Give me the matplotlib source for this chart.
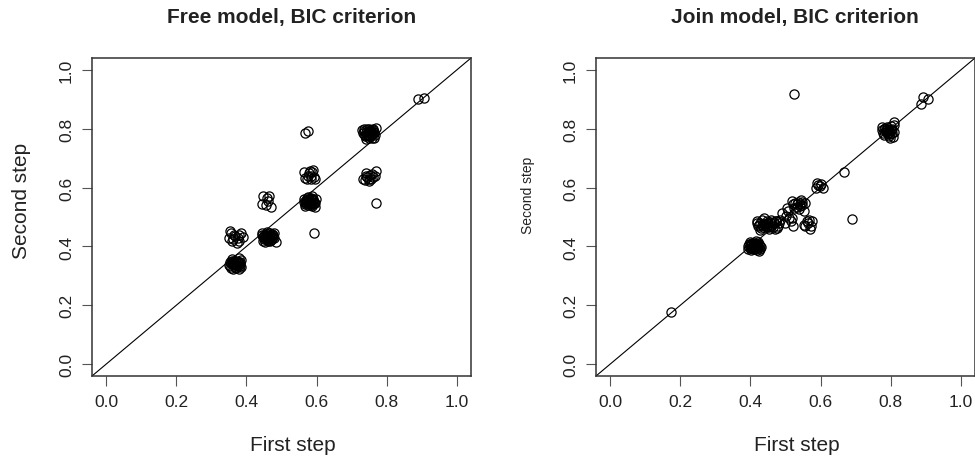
import matplotlib
matplotlib.use("Agg")
import matplotlib.pyplot as plt

plt.rcParams['font.family'] = ['Liberation Sans', 'DejaVu Sans']

# ---------------- data: Free model ----------------
free_first = [
    # dense cluster near (0.37, 0.34)
    0.352, 0.358, 0.365, 0.372, 0.378, 0.384, 0.355, 0.362, 0.369, 0.376, 0.382,
    0.360, 0.367, 0.374, 0.380, 0.386, 0.357, 0.371, 0.378, 0.364, 0.383, 0.350,
    0.361, 0.368, 0.375, 0.359, 0.373, 0.381, 0.366, 0.354,
    # sparse cluster near (0.37, 0.43)
    0.352, 0.355, 0.350, 0.358, 0.362, 0.368, 0.372, 0.375, 0.380, 0.385, 0.390, 0.365, 0.378,
    # dense cluster near (0.46, 0.43)
    0.445, 0.450, 0.455, 0.460, 0.465, 0.470, 0.475, 0.480, 0.485, 0.448, 0.453, 0.458,
    0.463, 0.468, 0.473, 0.478, 0.446, 0.451, 0.456, 0.461, 0.466, 0.471, 0.476, 0.444,
    0.452, 0.459, 0.467, 0.474, 0.449, 0.462, 0.469, 0.457,
    # sparse cluster near (0.46, 0.55)
    0.447, 0.465, 0.445, 0.455, 0.462, 0.470, 0.458,
    # dense cluster near (0.58, 0.55)
    0.565, 0.570, 0.575, 0.580, 0.585, 0.590, 0.595, 0.598, 0.568, 0.573, 0.578, 0.583,
    0.588, 0.593, 0.566, 0.571, 0.576, 0.581, 0.586, 0.591, 0.596, 0.563, 0.587, 0.579,
    0.574, 0.582, 0.589, 0.569, 0.577, 0.584, 0.592, 0.572,
    # cluster near (0.58, 0.64)
    0.565, 0.572, 0.578, 0.583, 0.588, 0.592, 0.596, 0.585, 0.575, 0.580, 0.590, 0.568,
    # isolated
    0.568, 0.575, 0.594,
    # dense cluster near (0.75, 0.785)
    0.730, 0.735, 0.740, 0.745, 0.750, 0.755, 0.760, 0.765, 0.768, 0.732, 0.738, 0.743,
    0.748, 0.753, 0.758, 0.763, 0.747, 0.757, 0.742, 0.752, 0.762, 0.736, 0.766,
    0.744, 0.751, 0.759, 0.739, 0.755, 0.749, 0.761, 0.746,
    # cluster near (0.75, 0.635)
    0.732, 0.738, 0.742, 0.745, 0.748, 0.752, 0.755, 0.758, 0.762, 0.766, 0.768, 0.740, 0.750,
    # isolated
    0.768, 0.890, 0.907,
]
free_second = [
    0.335, 0.342, 0.350, 0.338, 0.345, 0.355, 0.328, 0.325, 0.348, 0.332, 0.340,
    0.357, 0.336, 0.352, 0.322, 0.330, 0.345, 0.327, 0.360, 0.340, 0.348, 0.338,
    0.343, 0.331, 0.346, 0.352, 0.337, 0.334, 0.341, 0.347,
    0.452, 0.445, 0.428, 0.418, 0.425, 0.435, 0.412, 0.430, 0.440, 0.445, 0.432, 0.440, 0.420,
    0.445, 0.438, 0.430, 0.442, 0.425, 0.435, 0.440, 0.430, 0.415, 0.420, 0.415, 0.448,
    0.436, 0.418, 0.428, 0.445, 0.432, 0.425, 0.440, 0.420, 0.445, 0.422, 0.433, 0.438,
    0.431, 0.437, 0.427, 0.441, 0.434, 0.423, 0.439, 0.426,
    0.572, 0.572, 0.545, 0.540, 0.555, 0.535, 0.565,
    0.560, 0.548, 0.540, 0.555, 0.565, 0.545, 0.535, 0.560, 0.538, 0.565, 0.550, 0.540,
    0.570, 0.552, 0.545, 0.558, 0.568, 0.545, 0.552, 0.562, 0.548, 0.552, 0.537, 0.562,
    0.553, 0.547, 0.557, 0.551, 0.543, 0.561, 0.549, 0.556,
    0.652, 0.628, 0.648, 0.640, 0.652, 0.635, 0.630, 0.630, 0.640, 0.655, 0.658, 0.632,
    0.786, 0.792, 0.446,
    0.795, 0.800, 0.790, 0.780, 0.800, 0.785, 0.795, 0.770, 0.802, 0.785, 0.775, 0.798,
    0.770, 0.792, 0.778, 0.788, 0.787, 0.768, 0.766, 0.776, 0.800, 0.792, 0.780,
    0.783, 0.789, 0.781, 0.779, 0.796, 0.793, 0.784, 0.774,
    0.628, 0.625, 0.650, 0.635, 0.628, 0.642, 0.630, 0.645, 0.635, 0.638, 0.655, 0.638, 0.622,
    0.547, 0.901, 0.903,
]

# ---------------- data: Join model ----------------
join_first = [
    0.173, 0.523, 0.690, 0.667,
    # dense cluster near (0.41, 0.40)
    0.392, 0.396, 0.400, 0.404, 0.408, 0.412, 0.416, 0.420, 0.424, 0.428, 0.394, 0.398, 0.402,
    0.406, 0.410, 0.414, 0.418, 0.422, 0.426, 0.430, 0.399, 0.411, 0.419, 0.405, 0.415, 0.425,
    0.403, 0.409, 0.413, 0.417, 0.407, 0.421, 0.401, 0.423,
    # elongated cluster near (0.45, 0.475)
    0.418, 0.422, 0.426, 0.430, 0.434, 0.438, 0.442, 0.446, 0.450, 0.454, 0.458, 0.462, 0.466,
    0.470, 0.474, 0.478, 0.482, 0.485, 0.428, 0.440, 0.452, 0.464, 0.476, 0.420, 0.444, 0.468,
    0.436, 0.456, 0.432, 0.448, 0.460, 0.472, 0.424, 0.447,
    # sparse points near (0.505, 0.50)
    0.490, 0.500, 0.505, 0.510, 0.515, 0.520, 0.498, 0.508, 0.518,
    # cluster near (0.54, 0.545)
    0.518, 0.522, 0.528, 0.532, 0.536, 0.540, 0.544, 0.548, 0.552, 0.556, 0.525, 0.538, 0.546,
    0.534, 0.542,
    # cluster near (0.565, 0.475)
    0.552, 0.556, 0.560, 0.564, 0.568, 0.570, 0.572, 0.575,
    # cluster near (0.6, 0.605)
    0.586, 0.590, 0.594, 0.598, 0.602, 0.607,
    # dense cluster near (0.795, 0.795)
    0.775, 0.778, 0.782, 0.786, 0.790, 0.794, 0.798, 0.802, 0.806, 0.809, 0.780, 0.788, 0.796,
    0.800, 0.804, 0.792, 0.784, 0.808, 0.776, 0.810, 0.798, 0.803,
    0.789, 0.795, 0.801, 0.785, 0.791,
    # near 0.9
    0.886, 0.891, 0.906,
]
join_second = [
    0.177, 0.918, 0.492, 0.652,
    0.400, 0.408, 0.395, 0.412, 0.402, 0.390, 0.405, 0.398, 0.410, 0.392, 0.392, 0.415, 0.388,
    0.405, 0.412, 0.396, 0.388, 0.415, 0.402, 0.398, 0.402, 0.399, 0.408, 0.394, 0.418, 0.385,
    0.404, 0.396, 0.407, 0.401, 0.391, 0.403, 0.409, 0.395,
    0.488, 0.470, 0.480, 0.462, 0.490, 0.475, 0.468, 0.485, 0.478, 0.465, 0.490, 0.472, 0.482,
    0.460, 0.488, 0.470, 0.478, 0.490, 0.455, 0.495, 0.458, 0.465, 0.462, 0.478, 0.476, 0.478,
    0.465, 0.484, 0.474, 0.481, 0.469, 0.486, 0.472, 0.467,
    0.515, 0.505, 0.530, 0.498, 0.485, 0.470, 0.478, 0.520, 0.495,
    0.555, 0.545, 0.548, 0.535, 0.552, 0.545, 0.558, 0.540, 0.520, 0.548, 0.530, 0.528, 0.550,
    0.545, 0.538,
    0.472, 0.470, 0.485, 0.478, 0.490, 0.460, 0.468, 0.488,
    0.598, 0.615, 0.610, 0.605, 0.612, 0.600,
    0.795, 0.785, 0.800, 0.790, 0.805, 0.795, 0.782, 0.808, 0.772, 0.822, 0.778, 0.798, 0.775,
    0.795, 0.800, 0.786, 0.802, 0.790, 0.805, 0.812, 0.770, 0.785,
    0.792, 0.788, 0.797, 0.794, 0.783,
    0.885, 0.906, 0.900,
]

titles = ["Free model, BIC criterion", "Join model, BIC criterion"]
ticks = [0.0, 0.2, 0.4, 0.6, 0.8, 1.0]
tick_labels = ["0.0", "0.2", "0.4", "0.6", "0.8", "1.0"]

TXT = "#222222"
fig = plt.figure(figsize=(9.75, 4.6), dpi=100)

W, H = 975.0, 460.0
panels = [
    dict(rect=(92, 59, 471, 377), xs=free_first, ys=free_second, title=titles[0],
         title_x=292, xlab_x=293, ylab_x=22, ylab_y=201, ylab_size=15),
    dict(rect=(596, 59, 975, 377), xs=join_first, ys=join_second, title=titles[1],
         title_x=795, xlab_x=797, ylab_x=528, ylab_y=195, ylab_size=10),
]

for p in panels:
    l, t, r, b = p["rect"]
    ax = fig.add_axes([l / W, 1 - b / H, (r - l) / W, (b - t) / H])
    ax.set_xlim(-0.04, 1.04)
    ax.set_ylim(-0.04, 1.04)
    ax.plot([-0.04, 1.04], [-0.04, 1.04], color="black", lw=0.8)
    ax.plot(p["xs"], p["ys"], linestyle="none", marker="o", markersize=6.6,
            markerfacecolor="none", markeredgecolor="black", markeredgewidth=0.9)
    ax.set_xticks(ticks)
    ax.set_xticklabels(tick_labels)
    ax.set_yticks(ticks)
    ax.set_yticklabels(tick_labels, rotation=90, va="center")
    ax.tick_params(direction="out", length=7, width=0.8, colors="#555555",
                   labelcolor=TXT, labelsize=12.5, pad=6)
    for s in ax.spines.values():
        s.set_color("#333333")
        s.set_linewidth(1.1)
    fig.text(p["title_x"] / W, 1 - 18 / H, p["title"], ha="center", va="center",
             fontsize=15, fontweight="bold", color=TXT)
    fig.text(p["xlab_x"] / W, 1 - 446 / H, "First step", ha="center", va="center",
             fontsize=15, color=TXT)
    fig.text(p["ylab_x"] / W, 1 - p["ylab_y"] / H, "Second step", ha="center", va="center",
             rotation=90, fontsize=p["ylab_size"], color=TXT)

fig.savefig("out.png", dpi=100)
